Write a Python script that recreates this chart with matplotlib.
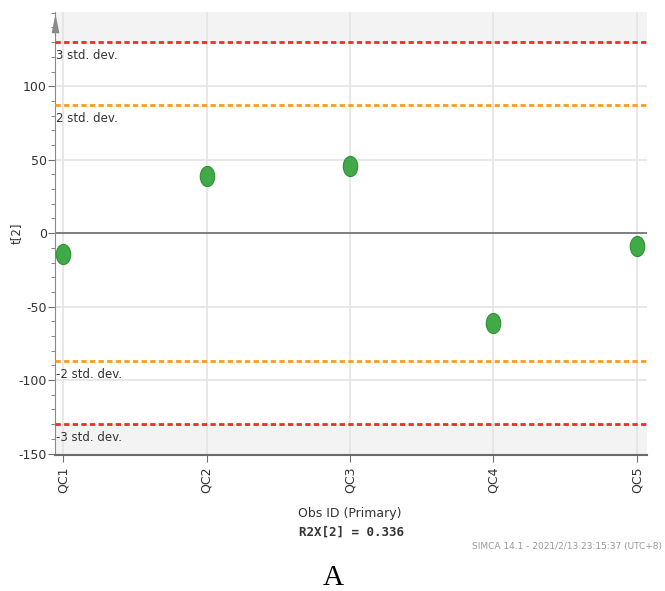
import matplotlib
matplotlib.use('Agg')
import matplotlib.pyplot as plt
from matplotlib.path import Path
from matplotlib.transforms import Affine2D
from matplotlib.ticker import MultipleLocator

OBS = ['QC1', 'QC2', 'QC3', 'QC4', 'QC5']
T2 = [-14.5, 38.8, 45.5, -61.0, -8.8]

STD2 = 87.0
STD3 = 130.0
R2X_TEXT = 'R2X[2] = 0.336'
STAMP = 'SIMCA 14.1 - 2021/2/13 23:15:37 (UTC+8)'

def main():
    plt.rcParams['axes.unicode_minus'] = False
    fig = plt.figure(figsize=(6.65, 5.91), dpi=100)
    ax = fig.add_axes([55 / 665, 1 - 455 / 591, (647 - 55) / 665, (455 - 12) / 591])

    x = list(range(len(OBS)))
    ax.set_xlim(-0.056, 4.07)
    ax.set_ylim(-151, 150.5)

    # shaded bands beyond 3 std. dev.
    ax.axhspan(STD3, 200, color='#f3f3f3', zorder=0)
    ax.axhspan(-200, -STD3, color='#f3f3f3', zorder=0)

    for xi in x:
        ax.axvline(xi, color='#e4e4e4', lw=1.2, zorder=1)
    for yv in [100, 50, -50, -100]:
        ax.axhline(yv, color='#e4e4e4', lw=1.2, zorder=1)
    ax.axhline(0, color='#6a6a6a', lw=1.2, zorder=2)

    dash = (0, (1.9, 1.2))
    ax.axhline(STD3, color='#f22a2a', lw=2, ls=dash, zorder=3)
    ax.axhline(-STD3, color='#f22a2a', lw=2, ls=dash, zorder=3)
    ax.axhline(STD2, color='#ff9a1a', lw=2, ls=dash, zorder=3)
    ax.axhline(-STD2, color='#ff9a1a', lw=2, ls=dash, zorder=3)

    lbl = dict(fontsize=8.5, color='#333333', va='top', ha='left', zorder=4)
    for yv, txt in [(STD3, '3 std. dev.'), (STD2, '2 std. dev.'),
                    (-STD2, '-2 std. dev.'), (-STD3, '-3 std. dev.')]:
        ax.annotate(txt, xy=(0, yv), xycoords=('axes fraction', 'data'),
                    xytext=(1, -5), textcoords='offset points', **lbl)

    ellipse = Path.unit_circle().transformed(Affine2D().scale(0.72, 1.0))
    ax.plot(x, T2, ls='none', marker=ellipse, ms=14.5,
            mfc='#40aa46', mec='#2f8f36', mew=0.8, zorder=5)

    ax.set_xticks(x)
    ax.set_xticklabels(OBS, rotation=90)
    ax.set_yticks([-150, -100, -50, 0, 50, 100])
    ax.yaxis.set_minor_locator(MultipleLocator(10))
    ax.tick_params(axis='y', which='major', length=5, color='#707070',
                   labelsize=9, labelcolor='#333333', pad=1)
    ax.tick_params(axis='y', which='minor', length=3, color='#707070')
    ax.tick_params(axis='x', length=5, color='#707070', labelsize=9,
                   labelcolor='#333333', pad=3)

    for s in ['top', 'right']:
        ax.spines[s].set_visible(False)
    ax.spines['left'].set_color('#8a8a8a')
    ax.spines['bottom'].set_color('#6a6a6a')
    ax.spines['bottom'].set_linewidth(1.5)

    # arrow at top of y axis
    arrow = Path([(-0.4, -1), (0.4, -1), (0, 1), (-0.4, -1)],
                 [Path.MOVETO, Path.LINETO, Path.LINETO, Path.CLOSEPOLY])
    ax.plot([0], [0.975], marker=arrow, ms=14, color='#8a8a8a', mew=0,
            transform=ax.transAxes, clip_on=False, zorder=6)

    fig.text(16 / 665, 1 - 233 / 591, 't[2]', rotation=90, fontsize=8.5,
             color='#333333', ha='center', va='center')
    fig.text(350 / 665, 1 - 513 / 591, 'Obs ID (Primary)', fontsize=9,
             color='#333333', ha='center', va='center')
    fig.text(352 / 665, 1 - 532 / 591, R2X_TEXT, fontsize=9, family='DejaVu Sans Mono',
             weight='bold', color='#333333', ha='center', va='center')
    fig.text(662 / 665, 1 - 547 / 591, STAMP, fontsize=6.5, color='#9a9a9a',
             ha='right', va='center')
    fig.text(333 / 665, 1 - 578 / 591, 'A', fontsize=21, family='Liberation Serif',
             color='black', ha='center', va='center')

    fig.savefig('out.png', dpi=100)

if __name__ == '__main__':
    main()
